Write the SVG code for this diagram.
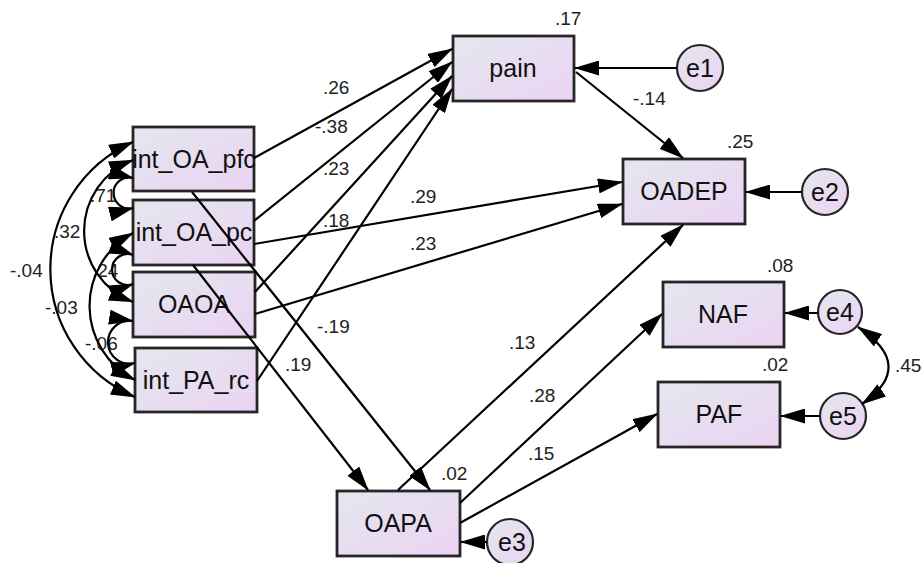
<svg xmlns="http://www.w3.org/2000/svg" width="923" height="563" viewBox="0 0 923 563">
<defs>
<linearGradient id="g" x1="0" y1="0" x2="1" y2="1">
<stop offset="0" stop-color="#e3e7ee"/>
<stop offset="1" stop-color="#ecd3f3"/>
</linearGradient>
<marker id="ar" markerUnits="userSpaceOnUse" markerWidth="25" markerHeight="15" viewBox="0 0 25 15" refX="24" refY="7.5" orient="auto-start-reverse">
<path d="M0,0 L25,7.5 L0,15 z" fill="#000"/>
</marker>
</defs>
<style>
.box{fill:url(#g);stroke:#262626;stroke-width:2.8}
.err{fill:url(#g);stroke:#262626;stroke-width:2.2}
.nl{font-family:"Liberation Sans",Arial,sans-serif;font-size:25px;fill:#111;text-anchor:middle}
.el{font-family:"Liberation Sans",Arial,sans-serif;font-size:19px;fill:#222}
.c{fill:none;stroke:#000;stroke-width:2.2}
.a{marker-end:url(#ar)}
.b{marker-start:url(#ar);marker-end:url(#ar)}
</style>
<g id="int_OA_pfc"><rect class="box" x="133" y="127" width="121" height="64"/><text class="nl" x="194" y="168">int_OA_pfc</text></g>
<g id="int_OA_pc"><rect class="box" x="133" y="200" width="121" height="65"/><text class="nl" x="194" y="241">int_OA_pc</text></g>
<g id="OAOA"><rect class="box" x="133" y="272" width="122" height="65"/><text class="nl" x="194" y="313">OAOA</text></g>
<g id="int_PA_rc"><rect class="box" x="135" y="348" width="122" height="64"/><text class="nl" x="196" y="389">int_PA_rc</text></g>
<g id="pain"><rect class="box" x="453" y="36" width="121" height="65"/><text class="nl" x="513" y="77">pain</text><text class="el" x="555" y="25">.17</text></g>
<g id="OADEP"><rect class="box" x="623" y="159" width="122" height="65"/><text class="nl" x="684" y="200">OADEP</text><text class="el" x="727" y="148">.25</text></g>
<g id="NAF"><rect class="box" x="663" y="282" width="121" height="65"/><text class="nl" x="723" y="323">NAF</text><text class="el" x="767" y="272">.08</text></g>
<g id="PAF"><rect class="box" x="658" y="382" width="122" height="65"/><text class="nl" x="719" y="423">PAF</text><text class="el" x="762" y="371">.02</text></g>
<g id="OAPA"><rect class="box" x="337" y="491" width="123" height="65"/><text class="nl" x="398" y="532">OAPA</text><text class="el" x="441" y="480">.02</text></g>
<g id="e1"><circle class="err" cx="700" cy="68" r="23"/><text class="nl" x="700" y="77">e1</text></g>
<g id="e2"><circle class="err" cx="825" cy="192" r="23"/><text class="nl" x="825" y="201">e2</text></g>
<g id="e3"><circle class="err" cx="510" cy="542" r="23"/><text class="nl" x="512" y="551">e3</text></g>
<g id="e4"><circle class="err" cx="840" cy="312" r="22"/><text class="nl" x="840" y="321">e4</text></g>
<g id="e5"><circle class="err" cx="843" cy="416" r="23"/><text class="nl" x="843" y="425">e5</text></g>
<g id="edge-labels">
<text class="el" x="323" y="94">.26</text>
<text class="el" x="315" y="133">-.38</text>
<text class="el" x="323" y="175">.23</text>
<text class="el" x="323" y="227">.18</text>
<text class="el" x="410" y="203">.29</text>
<text class="el" x="410" y="250">.23</text>
<text class="el" x="633" y="105">-.14</text>
<text class="el" x="317" y="333">-.19</text>
<text class="el" x="285" y="371">.19</text>
<text class="el" x="509" y="349">.13</text>
<text class="el" x="529" y="402">.28</text>
<text class="el" x="528" y="460">.15</text>
<text class="el" x="895" y="372">.45</text>
<text class="el" x="90" y="202">.71</text>
<text class="el" x="54" y="238">.32</text>
<text class="el" x="10" y="277">-.04</text>
<text class="el" x="45" y="314">-.03</text>
<text class="el" x="92" y="277">.24</text>
<text class="el" x="85" y="350">-.06</text>
</g>
<g id="connectors">
<path class="c a" d="M254,158 L452,49"/>
<path class="c a" d="M254,221 L452,62"/>
<path class="c a" d="M255,292 L452,76"/>
<path class="c a" d="M257,381 L452,89"/>
<path class="c a" d="M254,244 L622,182"/>
<path class="c a" d="M255,314 L622,204"/>
<path class="c a" d="M576,72 L683,158"/>
<path class="c a" d="M677,68 L575,68"/>
<path class="c a" d="M802,192 L746,192"/>
<path class="c a" d="M398,490 L683,225"/>
<path class="c a" d="M192,192 L430,490"/>
<path class="c a" d="M193,265 L368,490"/>
<path class="c a" d="M460,503 L662,314"/>
<path class="c a" d="M460,523 L657,414"/>
<path class="c a" d="M487,542 L461,542"/>
<path class="c a" d="M818,313 L785,313"/>
<path class="c a" d="M820,416 L781,416"/>
<path class="c b" d="M858,327 Q917,366 862,404"/>
<path class="c b" d="M133,142 A139,139 0 0,0 135,397"/>
<path class="c b" d="M133,160 A76,76 0 0,0 133,302"/>
<path class="c b" d="M133,233 A83,83 0 0,0 135,380"/>
<path class="c b" d="M133,178 A15.5,15.5 0 1,0 133,208"/>
<path class="c b" d="M133,255 A15.5,15.5 0 1,0 133,284"/>
<path class="c b" d="M133,321 A21.5,21.5 0 1,0 135,363"/>
</g>
</svg>
